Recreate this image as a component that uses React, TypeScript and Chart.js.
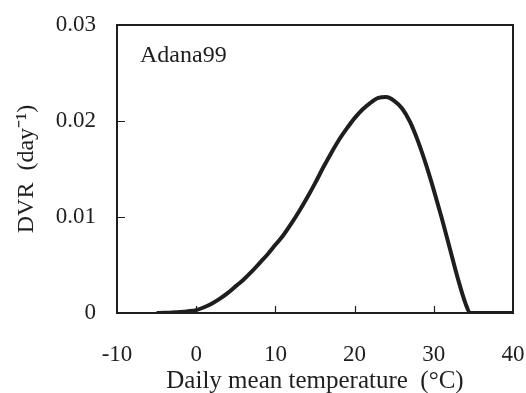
import React, { useEffect, useRef } from "react";
import { Chart, registerables } from "chart.js";

Chart.register(...registerables);

const temperature = [-5, -4, -3, -2, -1, 0, 1, 2, 3, 4, 5, 6, 7, 8, 9, 10, 11, 12, 13, 14, 15, 16, 17, 18, 19, 20, 21, 22, 23, 24, 25, 26, 27, 28, 29, 30, 31, 32, 33, 34, 34.6, 36, 38, 40];
const dvr = [0, 0.00002, 0.00005, 0.0001, 0.00018, 0.0003, 0.0006, 0.001, 0.0015, 0.0021, 0.0028, 0.0035, 0.0043, 0.0052, 0.0061, 0.0071, 0.0081, 0.0093, 0.0106, 0.012, 0.0135, 0.0151, 0.0166, 0.018, 0.0192, 0.0203, 0.0212, 0.0219, 0.0224, 0.0225, 0.0221, 0.0213, 0.0199, 0.0179, 0.0155, 0.0128, 0.0099, 0.0068, 0.0037, 0.001, 0, 0, 0, 0];
const xTicks = [-10, 0, 10, 20, 30, 40];
const yTicks = [0, 0.01, 0.02, 0.03];
const seriesLabel = "Adana99";
const xTitle = "Daily mean temperature  (°C)";
const yTitle = "DVR  (day⁻¹)";

const FONT = "'Liberation Serif', 'Times New Roman', serif";
const INK = "#1e1e1e";

const framePlugin = {
  id: "frame",
  afterDatasetsDraw(chart: any) {
    const { ctx, chartArea } = chart;
    const xs = chart.scales.x;
    const ys = chart.scales.y;
    ctx.save();
    ctx.strokeStyle = INK;
    ctx.lineWidth = 2;
    ctx.strokeRect(chartArea.left, chartArea.top, chartArea.right - chartArea.left, chartArea.bottom - chartArea.top);
    ctx.lineWidth = 1.2;
    ctx.beginPath();
    xTicks.slice(1, -1).forEach((v) => {
      const px = Math.round(xs.getPixelForValue(v)) + 0.5;
      ctx.moveTo(px, chartArea.bottom);
      ctx.lineTo(px, chartArea.bottom - 7);
    });
    yTicks.slice(1, -1).forEach((v) => {
      const py = Math.round(ys.getPixelForValue(v)) + 0.5;
      ctx.moveTo(chartArea.left, py);
      ctx.lineTo(chartArea.left + 8, py);
    });
    ctx.stroke();
    ctx.fillStyle = INK;
    ctx.font = `24px ${FONT}`;
    ctx.textAlign = "left";
    ctx.textBaseline = "alphabetic";
    ctx.fillText(seriesLabel, chartArea.left + 23, chartArea.top + 37);
    ctx.restore();
  },
};

export default function App() {
  const ref = useRef<HTMLCanvasElement>(null);
  useEffect(() => {
    if (!ref.current) return;
    const chart = new Chart(ref.current, {
      type: "line",
      data: {
        datasets: [
          {
            label: seriesLabel,
            data: temperature.map((t, i) => ({ x: t, y: dvr[i] })),
            borderColor: INK,
            borderWidth: 4,
            pointRadius: 0,
            cubicInterpolationMode: "monotone",
            fill: false,
          },
        ],
      },
      options: {
        responsive: false,
        animation: false,
        layout: { padding: { left: 0, right: 13, top: 25, bottom: 0 } },
        plugins: { legend: { display: false }, tooltip: { enabled: false } },
        scales: {
          x: {
            type: "linear",
            min: -10,
            max: 40,
            afterFit: (s: any) => { s.height = 80; s.paddingLeft = 0; s.paddingRight = 0; },
            afterBuildTicks: (s: any) => { s.ticks = xTicks.map((v) => ({ value: v })); },
            grid: { display: false, drawTicks: false },
            border: { display: false },
            ticks: {
              padding: 28,
              color: INK,
              font: { family: FONT, size: 23 },
              autoSkip: false,
              maxRotation: 0,
              callback: (v: any) => String(v),
            },
            title: {
              display: true,
              text: xTitle,
              color: INK,
              font: { family: FONT, size: 25 },
              padding: { top: 0, bottom: -3 },
            },
          },
          y: {
            type: "linear",
            min: 0,
            max: 0.03,
            afterFit: (s: any) => { s.width = 117; s.paddingTop = 0; s.paddingBottom = 0; },
            afterBuildTicks: (s: any) => { s.ticks = yTicks.map((v) => ({ value: v })); },
            grid: { display: false, drawTicks: false },
            border: { display: false },
            ticks: {
              padding: 21,
              color: INK,
              font: { family: FONT, size: 23 },
              autoSkip: false,
              callback: (v: any) => (v === 0 ? "0" : Number(v).toFixed(2)),
            },
            title: {
              display: true,
              text: yTitle,
              color: INK,
              font: { family: FONT, size: 24 },
              padding: { top: 12, bottom: 0 },
            },
          },
        },
      },
      plugins: [framePlugin],
    } as any);
    return () => chart.destroy();
  }, []);
  return (
    <div style={{ position: "fixed", left: 0, top: 0, width: 526, height: 393, background: "#fff" }}>
      <canvas ref={ref} width={526} height={393} />
    </div>
  );
}
